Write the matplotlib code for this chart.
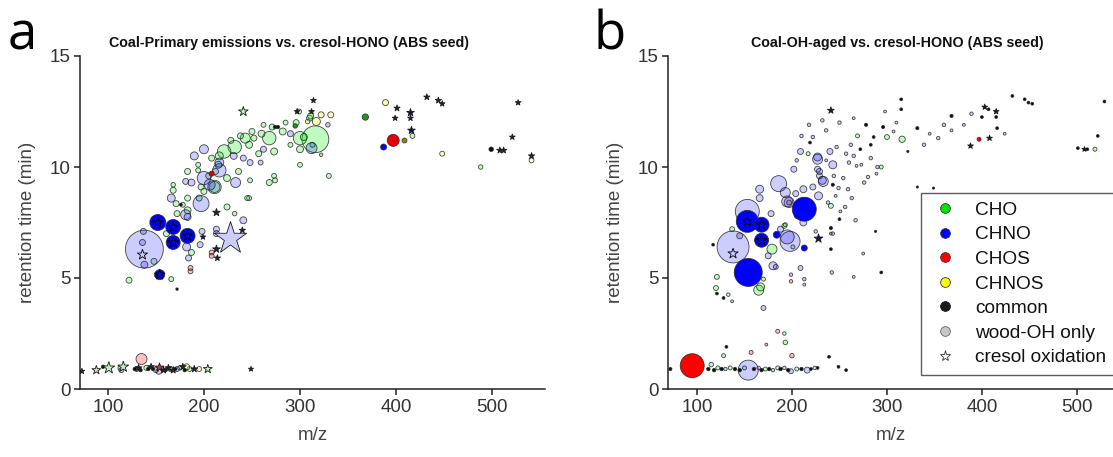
import matplotlib
matplotlib.use("Agg")
import matplotlib.pyplot as plt
from matplotlib.lines import Line2D

plt.rcParams['font.family'] = ['Liberation Sans', 'DejaVu Sans']

# ---------------- DATA (m/z, retention time [min], relative abundance) -------------
# Panel a: Coal-Primary emissions vs. cresol-HONO
a_cho_light = [(299,12.5,6),(310,12.2,9),(296,12.0,9),(300,11.3,45),(300,10.8,12),(300,10.1,6),
               (282,11.6,12),(271,11.8,9),(268,11.3,45),(273,10.7,12),(260,11.5,12),(257,10.6,9),
               (252,11.3,9),(250,11.6,9),(243,11.3,25),(247,11.0,12),(232,10.9,45),(221,10.7,45),
               (216,10.5,16),(208,10.4,9),(212,9.8,9),(224,9.5,12),(236,9.8,9),(248,9.4,6),
               (247,8.6,6),(273,9.6,6),(274,9.4,6),(268,9.3,9),(211,9.1,45),(194,10.1,6),
               (194,9.85,6),(183,9.8,9),(197,9.1,9),(195,8.6,9),(183,8.6,9),(168,8.95,9),
               (168,9.2,5),(171,8.35,9),(172,7.9,9),(224,8.2,9),(232,7.9,5),(245,8.6,6),
               (183,8.05,12),(161,7.0,9),(187,6.15,9),(148,5.75,9),(122,4.9,9),(166,4.95,6),
               (316,11.25,180),(304,11.35,12),(311,12.3,9),(330,9.6,6),(417,11.4,6),(488,10.0,5),
               (228,11.2,9),(238,11.4,9),(262,11.9,6),(285,12.0,6),(290,11.0,6),(205,9.6,9),
               (215,10.1,12),(200,8.9,9),(178,8.3,6),(313,11.0,6),
               (130,0.9,6),(140,0.95,6),(150,0.85,6),(165,0.9,6),(175,0.95,5),(185,0.9,6),(113,0.95,6)]
a_cho_solid = [(368,12.25,10),(295,11.85,5)]
a_chno_light = [(138,6.3,360),(290,11.5,9),(262,10.8,9),(241,10.4,9),(248,10.2,9),(259,10.2,6),
                (231,10.5,12),(216,10.2,20),(216,9.85,45),(233,9.3,25),(200,9.5,45),(187,9.3,12),
                (181,9.35,9),(197,8.35,64),(166,8.6,16),(181,7.85,25),(183,7.75,12),(241,7.6,12),
                (198,7.1,9),(196,6.5,9),(213,7.2,9),(213,7.0,9),(182,6.4,16),(184,5.9,9),
                (137,7.1,9),(136,6.6,9),(138,5.6,12),(312,10.85,30),(329,11.9,5),(211,9.1,30),
                (190,10.5,16),(200,10.8,20),(206,9.2,30),(153,0.8,9),(172,0.9,6),(114,0.85,6)]
a_chno_solid = [(152,7.5,64),(168,7.3,56),(183,6.9,56),(168,6.6,49),(154,5.15,25),(387,10.9,9)]
a_chos_light = [(135,1.35,30),(208,6.15,6),(208,6.0,6),(186,5.45,6),(186,5.3,6),(322,10.55,3)]
a_chos_solid = [(397,11.2,36),(208,9.7,6)]
a_chnos_light = [(389,12.9,9),(322,12.35,9),(332,12.35,9),(317,12.05,16),(308,12.05,5),
                 (448,10.6,6),(541,10.3,6),(182,1.0,9),(195,0.9,6)]
a_chnos_solid = [(408,11.2,6)]
a_common = [(274,11.8,3),(277,11.8,3),(499,10.8,5),(172,4.5,1.5),(176,8.3,2),(150,5.1,1.5),
            (128,0.9,3),(134,0.85,3),(142,0.9,3),(147,0.9,3),(160,0.85,3),(170,0.9,3),(180,0.85,3),(95,1.0,3)]
a_star_black = [(314,13.0,5),(312,12.5,5),(297,12.5,5),(401,12.65,6),(399,12.2,5),(415,12.2,5),
                (432,13.15,6),(444,13.0,6),(448,12.85,5),(508,10.75,6),(512,10.75,6),(521,11.35,5),
                (527,12.9,5),(541,10.5,6),(213,7.95,9),(240,7.15,6),(199,6.85,5),(213,6.3,9),
                (214,5.9,6),(73,0.8,5),(249,0.9,4),(132,0.95,7),(145,1.0,7),(163,0.95,7),
                (178,1.0,7),(190,0.9,7),(158,0.85,7),(168,0.85,7)]
a_star_navy = [(415,12.45,9),(416,11.65,9)]
a_star_green = [(241,12.5,14),(88,0.85,12),(101,0.95,22),(116,1.0,18),(204,0.9,12)]
a_star_lavender = [(227,6.8,160)]
a_star_red = [(153,1.0,12)]
a_star_inner = [(152,7.5),(168,7.3),(168,6.6),(183,6.9),(154,5.15),(136,6.05)]

# Panel b: Coal-OH-aged vs. cresol-HONO
b_cho_light = [(300,11.35,6),(316,11.25,10),(217,10.6,4),(241,8.25,6),(192,7.35,6),(179,6.3,25),
               (167,4.6,16),(137,7.2,6),(121,5.05,6),(120,4.55,6),(193,7.4,4),(201,6.4,4),
               (269,11.4,4),(294,10.0,4),(519,10.8,4),(133,4.25,3),(165,4.45,25),(170,4.95,4),
               (115,1.1,5),(128,1.5,4),(192,2.5,3),(193,2.1,5),(122,0.95,4),(135,0.95,4),
               (150,0.95,4),(172,0.9,4),(185,0.95,4),(205,0.9,4),(224,0.95,3)]
b_chno_light = [(138,6.4,256),(153,8.0,144),(198,6.65,100),(186,9.25,64),(197,8.4,25),(166,9.0,16),
                (166,8.6,12),(227,10.45,16),(229,9.8,9),(232,9.4,16),(212,7.5,12),(180,5.55,16),
                (160,5.3,9),(154,0.85,100),(199,0.8,6),(216,0.85,9),
                (250,12.0,3),(236,11.65,3),(222,11.35,3),(354,11.3,3),(360,11.9,3),(389,12.4,3),
                (240,10.7,9),(257,10.6,3),(262,11.0,3),(260,10.2,3),(290,10.0,3),(276,9.3,3),
                (280,9.55,3),(254,9.5,3),(259,9.0,3),(249,9.05,3),(244,9.6,3),(243,10.1,16),
                (233,9.35,25),(228,8.7,16),(267,7.6,3),(243,7.0,3),(225,7.1,3),(227,10.35,25),
                (227,9.9,9),(229,9.6,9),(202,9.9,9),(209,10.7,9),(222,9.1,9),(212,9.0,12),
                (193,8.85,25),(195,8.45,30),(204,8.8,9),(195,6.85,49),(183,5.5,6),(199,5.15,3),
                (213,4.95,3),(209,5.45,6),(170,3.65,6),(339,11.0,3),(210,11.4,3),(218,11.9,3),
                (232,12.1,3),(205,10.3,3),(247,10.9,3),(265,10.5,3),(283,10.4,3),(238,8.4,3),
                (256,8.2,3),(263,8.6,3),(178,7.9,9),(188,7.2,9),(205,7.8,6),(220,8.0,6),
                (175,6.0,9),(145,6.9,9),(130,0.9,3),(165,0.95,3),(180,0.85,3),(192,0.95,3),
                (345,11.5,2),(307,11.6,2),(310,12.0,2),(298,12.5,2),(265,12.2,2),(381,11.9,2),
                (368,11.65,2),(424,11.5,2),(273,10.1,2),(268,10.05,2),(289,9.7,2),(236,10.3,2),
                (251,8.0,2),(246,8.7,2),(241,7.0,2),(275,6.1,2),(213,4.7,2),(265,5.05,2),(137,3.95,2)]
b_chno_solid = [(153,7.55,121),(168,7.4,56),(168,6.7,49),(184,6.95,12),(213,8.1,144),(154,5.25,196),(213,6.35,9)]
b_chos_light = [(197,8.4,6),(157,1.65,4),(173,2.0,2),(185,2.6,4),(200,1.5,5),(199,4.85,3),(242,5.25,3)]
b_chos_solid = [(95,1.05,144),(397,11.25,4)]
b_common = [(315,13.05,2),(315,12.6,2),(278,11.9,2.5),(296,11.8,2.5),(332,11.75,2.5),
            (368,12.3,2.5),(407,12.6,2),(400,12.25,2),(415,12.25,2),(416,11.75,2),
            (432,13.2,2),(445,13.05,2),(449,12.9,2),(453,12.85,2),(529,12.95,2),(522,11.4,2),
            (501,10.85,2),(511,10.8,2),(322,10.7,1.2),(349,9.05,1.2),(288,7.1,1.2),(243,9.2,2.5),
            (250,7.65,2),(241,7.25,2.5),(72,0.9,2.5),(131,1.9,2),(239,1.45,2),(249,1.0,2),
            (257,0.85,2),(128,4.1,2),(121,4.3,2),(294,5.25,2),(241,6.3,2),(117,6.5,2),
            (286,11.35,2),(283,11.0,2),(272,10.8,2),(219,11.1,2),(332,9.1,1.2),
            (112,0.9,3),(118,0.85,3),(126,0.9,3),(140,0.9,3),(145,0.85,3),(160,0.9,3),
            (168,0.85,3),(176,0.9,3),(188,0.9,3),(196,0.85,3),(210,0.9,3),(220,0.9,2),(227,0.95,2)]
b_star_black = [(241,12.55,7),(403,12.7,5),(415,12.5,5),(408,11.3,5),(388,10.95,5),(508,10.8,4)]
b_star_navy = [(227,6.8,12)]
b_star_inner = [(153,7.55),(168,7.4),(168,6.7),(138,6.1)]

# ---------------- STYLE ----------------
SIZE = 2.07
EDGE = (0.15, 0.15, 0.15, 0.85)
LIGHT = {'cho': (0.0, 0.95, 0.0, 0.25), 'chno': (0.0, 0.0, 1.0, 0.2),
         'chos': (1.0, 0.0, 0.0, 0.25), 'chnos': (1.0, 1.0, 0.0, 0.25)}

fig = plt.figure(figsize=(11.13, 4.57), dpi=100)
ax_a = fig.add_axes([80/1113, 1-389/457, 465/1113, 333/457])
ax_b = fig.add_axes([668/1113, 1-389/457, 445/1113, 333/457])


def circles(ax, pts, fc, z, lw=0.6, ec=EDGE):
    if not pts:
        return
    pts = sorted(pts, key=lambda p: -p[2])
    ax.scatter([p[0] for p in pts], [p[1] for p in pts], s=[p[2]*SIZE for p in pts],
               facecolors=[fc]*len(pts), edgecolors=[ec]*len(pts), linewidths=lw, zorder=z)


def stars(ax, pts, fc, z, lw=0.6):
    if not pts:
        return
    ax.scatter([p[0] for p in pts], [p[1] for p in pts], s=[p[2]*SIZE*1.8 for p in pts],
               marker='*', facecolors=fc, edgecolors=(0.1, 0.1, 0.1), linewidths=lw, zorder=z)


def inner(ax, pts):
    ax.scatter([p[0] for p in pts], [p[1] for p in pts], s=60, marker='*',
               facecolors='none', edgecolors='black', linewidths=0.6, zorder=6)


# panel a
circles(ax_a, a_cho_light, LIGHT['cho'], 2)
circles(ax_a, a_chno_light, LIGHT['chno'], 2)
circles(ax_a, a_chos_light, LIGHT['chos'], 2)
circles(ax_a, a_chnos_light, LIGHT['chnos'], 2)
circles(ax_a, a_chno_solid, (0, 0, 1), 4)
circles(ax_a, a_cho_solid, (0.1, 0.6, 0.1), 4)
circles(ax_a, a_chos_solid, (0.9, 0.0, 0.0), 4)
circles(ax_a, a_chnos_solid, (0.55, 0.55, 0.05), 4)
circles(ax_a, a_common, (0.05, 0.05, 0.05), 5)
stars(ax_a, a_star_lavender, (0.8, 0.8, 1.0), 3)
stars(ax_a, a_star_green, (0.75, 0.95, 0.75), 5)
stars(ax_a, a_star_red, (0.8, 0.2, 0.3), 5)
stars(ax_a, a_star_navy, (0.05, 0.05, 0.35), 5)
stars(ax_a, a_star_black, (0.15, 0.15, 0.2), 5)
inner(ax_a, a_star_inner)

# panel b
circles(ax_b, b_cho_light, LIGHT['cho'], 2)
circles(ax_b, b_chno_light, LIGHT['chno'], 2)
circles(ax_b, b_chos_light, LIGHT['chos'], 2)
circles(ax_b, b_chno_solid, (0, 0, 1), 4)
circles(ax_b, b_chos_solid, (1.0, 0.0, 0.0), 4)
circles(ax_b, b_common, (0.05, 0.05, 0.05), 5)
stars(ax_b, b_star_navy, (0.05, 0.05, 0.5), 5)
stars(ax_b, b_star_black, (0.1, 0.1, 0.1), 5)
inner(ax_b, b_star_inner)

xticks = [100, 200, 300, 400, 500]
yticks = [0, 5, 10, 15]
for ax, xl in ((ax_a, (71, 555)), (ax_b, (69.5, 538))):
    ax.set_xlim(*xl)
    ax.set_ylim(0, 15)
    ax.set_xticks(xticks)
    ax.set_yticks(yticks)
    for s in ('top', 'right'):
        ax.spines[s].set_visible(False)
    for s in ('left', 'bottom'):
        ax.spines[s].set_linewidth(1.1)
        ax.spines[s].set_color('#222222')
    ax.tick_params(direction='out', length=4, width=1.1, labelsize=13.5, colors='#222222',
                   labelcolor='#333333', pad=3)
    ax.set_xlabel('m/z', fontsize=13.5, color='#444444', labelpad=8)
    ax.set_ylabel('retention time (min)', fontsize=13.5, color='#444444', labelpad=10)

fig.text(289/1113, 1-47/457, 'Coal-Primary emissions vs. cresol-HONO (ABS seed)',
         fontsize=10.3, fontweight='bold', ha='center', va='baseline', color='#111111')
fig.text(897/1113, 1-47/457, 'Coal-OH-aged vs. cresol-HONO (ABS seed)',
         fontsize=10.3, fontweight='bold', ha='center', va='baseline', color='#111111')
fig.text(8/1113, 1-50/457, 'a', fontsize=38, ha='left', va='baseline', family='Open Sans')
fig.text(594/1113, 1-50/457, 'b', fontsize=38, ha='left', va='baseline', family='Open Sans')

handles = [
    Line2D([], [], ls='none', marker='o', ms=7, mfc=(0.0, 0.9, 0.0), mec='#333333', mew=0.6),
    Line2D([], [], ls='none', marker='o', ms=7, mfc=(0.0, 0.0, 1.0), mec='#333333', mew=0.6),
    Line2D([], [], ls='none', marker='o', ms=7, mfc=(1.0, 0.0, 0.0), mec='#333333', mew=0.6),
    Line2D([], [], ls='none', marker='o', ms=7, mfc=(1.0, 1.0, 0.0), mec='#333333', mew=0.6),
    Line2D([], [], ls='none', marker='o', ms=7, mfc=(0.1, 0.1, 0.1), mec='#111111', mew=0.6),
    Line2D([], [], ls='none', marker='o', ms=7, mfc=(0.78, 0.78, 0.78), mec='#666666', mew=0.6),
    Line2D([], [], ls='none', marker='*', ms=8, mfc='white', mec='#333333', mew=0.6),
]
labels = ['CHO', 'CHNO', 'CHOS', 'CHNOS', 'common', 'wood-OH only', 'cresol oxidation']
leg = fig.legend(handles, labels, loc='upper left', bbox_to_anchor=(921/1113, 1-193/457),
                 frameon=True, fancybox=False, fontsize=13.7, labelspacing=0.38,
                 handletextpad=0.8, borderpad=0.45, handlelength=1.6, borderaxespad=0)
leg.get_frame().set_edgecolor('#333333')
leg.get_frame().set_linewidth(1.0)
for t in leg.get_texts():
    t.set_color('#111111')

fig.savefig('out.png', dpi=100)
